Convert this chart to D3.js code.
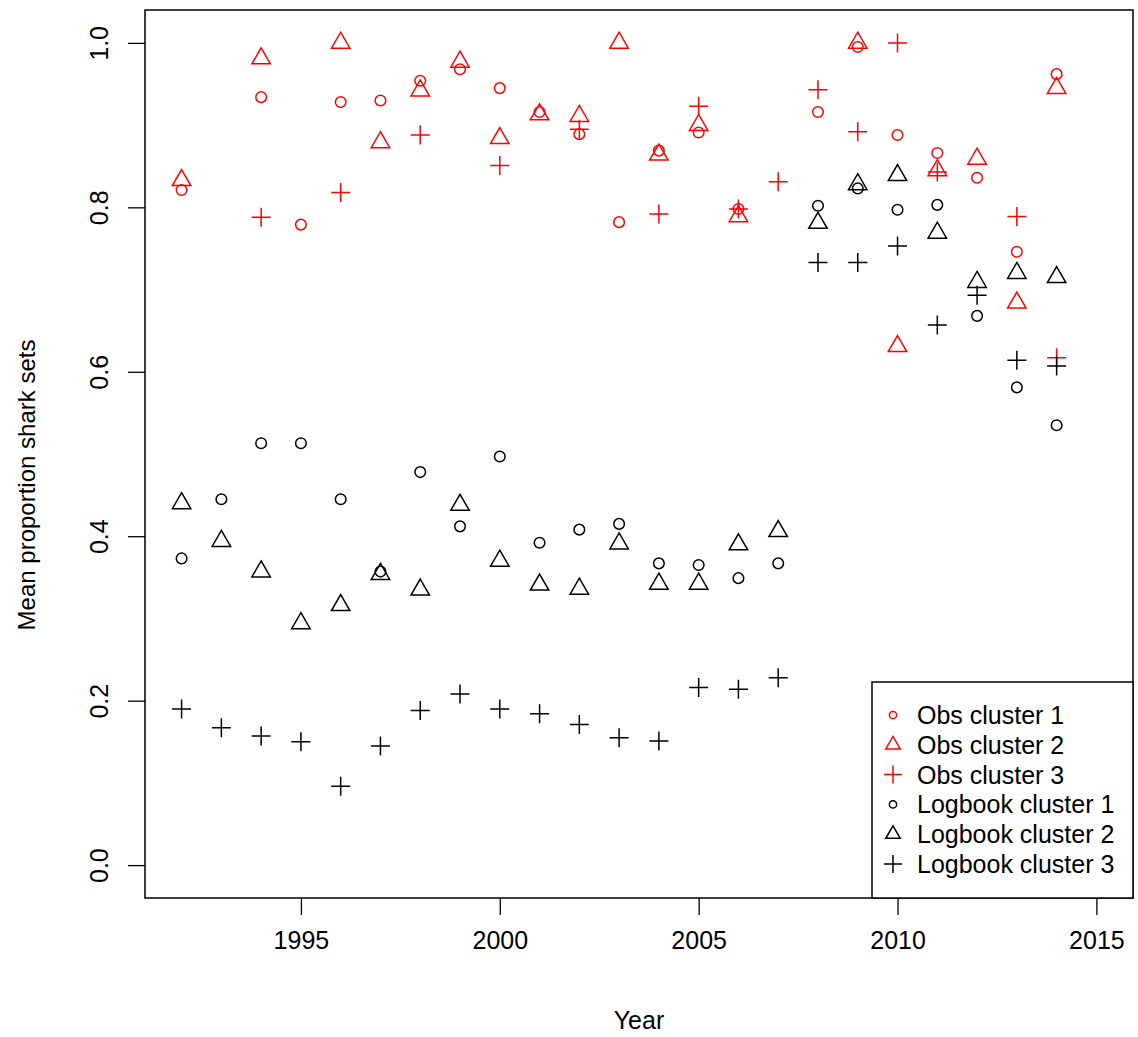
<!DOCTYPE html>
<html>
<head>
<meta charset="utf-8">
<script src="https://cdn.jsdelivr.net/npm/d3@7"></script>
<style>
  html, body { margin: 0; padding: 0; background: #ffffff; }
  svg { display: block; font-family: "Liberation Sans", Arial, sans-serif; }
</style>
</head>
<body>
<svg id="chart" width="1138" height="1037"></svg>
<script>
// ---- data ----
const years = [1992,1993,1994,1995,1996,1997,1998,1999,2000,2001,2002,2003,2004,2005,2006,2007,2008,2009,2010,2011,2012,2013,2014];

// null = no point drawn that year
const obsCluster1 = [0.821,null,0.934,0.779,0.928,0.930,0.954,0.968,0.945,0.916,0.889,0.782,0.869,0.891,0.798,null,0.916,0.995,0.888,0.866,0.836,0.746,0.962];
const obsCluster2 = [0.833,null,0.981,null,1.000,0.879,0.942,0.977,0.884,0.913,0.911,1.000,0.864,0.900,0.789,null,null,1.000,0.631,0.845,0.859,0.684,0.945];
const obsCluster3 = [null,null,0.788,null,0.818,null,0.888,null,0.851,null,0.895,null,0.792,0.923,0.798,0.831,0.943,0.892,1.000,0.843,null,0.789,0.617];
const logCluster1 = [0.373,0.445,0.513,0.513,0.445,0.357,0.478,0.412,0.497,0.392,0.408,0.415,0.367,0.365,0.349,0.367,0.802,0.823,0.797,0.803,0.668,0.581,0.535];
const logCluster2 = [0.440,0.394,0.357,0.294,0.316,0.354,0.335,0.438,0.370,0.341,0.336,0.391,0.342,0.342,0.390,0.406,0.781,0.828,0.839,0.769,0.709,0.720,0.715];
const logCluster3 = [0.190,0.167,0.157,0.150,0.096,0.145,0.188,0.208,0.190,0.184,0.171,0.155,0.151,0.216,0.214,0.228,0.733,0.733,0.753,0.657,0.693,0.614,0.607];

const seriesNames = ["Obs cluster 1","Obs cluster 2","Obs cluster 3","Logbook cluster 1","Logbook cluster 2","Logbook cluster 3"];
const seriesValues = [obsCluster1, obsCluster2, obsCluster3, logCluster1, logCluster2, logCluster3];
const seriesShapes = ["circle","triangle","plus","circle","triangle","plus"];
const seriesColors = ["#ff0000","#ff0000","#ff0000","#000000","#000000","#000000"];

const xTicks = [1995, 2000, 2005, 2010, 2015];
const yTicks = [0.0, 0.2, 0.4, 0.6, 0.8, 1.0];

const xLabel = "Year";
const yLabel = "Mean proportion shark sets";

// ---- layout ----
const svg = d3.select("#chart");
const box = { left: 145, top: 10, right: 1133, bottom: 898 };

const x = d3.scaleLinear().domain([1991.08, 2015.92]).range([box.left, box.right]);
const y = d3.scaleLinear().domain([-0.04, 1.04]).range([box.bottom, box.top]);

// symbol path generators
function symPath(shape, big) {
  if (shape === "circle") {
    const r = big ? 5.3 : 3.6;
    return `M${r},0A${r},${r} 0 1,1 ${-r},0A${r},${r} 0 1,1 ${r},0Z`;
  }
  if (shape === "triangle") {
    const h = big ? 16 : 12.5;      // total height; centroid at origin
    const a = h / 3;
    const hw = a * Math.sqrt(3);
    return `M0,${-2*a}L${hw},${a}L${-hw},${a}Z`;
  }
  const p = big ? 9.5 : 9;
  return `M${-p},0H${p}M0,${-p}V${p}`;
}

// ---- points ----
const gPts = svg.append("g");
seriesValues.forEach((vals, si) => {
  const pts = years.map((yr, i) => ({ yr, v: vals[i] })).filter(d => d.v !== null);
  gPts.selectAll(null)
    .data(pts)
    .enter()
    .append("path")
    .attr("transform", d => `translate(${x(d.yr)},${y(d.v)})`)
    .attr("d", symPath(seriesShapes[si], true))
    .attr("fill", "none")
    .attr("stroke", seriesColors[si])
    .attr("stroke-width", 1.5);
});

// ---- axes ----
const xAxis = svg.append("g")
  .attr("transform", `translate(0,${box.bottom})`)
  .call(d3.axisBottom(x).tickValues(xTicks).tickSize(17).tickFormat(d3.format("d")));
xAxis.select(".domain").remove();
xAxis.selectAll(".tick line").attr("stroke", "#000").attr("stroke-width", 1.3);
xAxis.selectAll(".tick text")
  .attr("y", 0).attr("dy", 0)
  .attr("transform", "translate(0,51)")
  .attr("font-size", 25)
  .attr("font-family", "Liberation Sans, Arial, sans-serif")
  .attr("fill", "#000");

const yAxis = svg.append("g")
  .attr("transform", `translate(${box.left},0)`)
  .call(d3.axisLeft(y).tickValues(yTicks).tickSize(17).tickFormat(d3.format(".1f")));
yAxis.select(".domain").remove();
yAxis.selectAll(".tick line").attr("stroke", "#000").attr("stroke-width", 1.3);
yAxis.selectAll(".tick text")
  .attr("x", 0).attr("dy", 0)
  .attr("text-anchor", "middle")
  .attr("transform", "translate(-37,0) rotate(-90)")
  .attr("font-size", 25)
  .attr("font-family", "Liberation Sans, Arial, sans-serif")
  .attr("fill", "#000");

// plot box
svg.append("rect")
  .attr("x", box.left).attr("y", box.top)
  .attr("width", box.right - box.left).attr("height", box.bottom - box.top)
  .attr("fill", "none").attr("stroke", "#000").attr("stroke-width", 1.5);

// axis titles
svg.append("text")
  .attr("x", (box.left + box.right) / 2).attr("y", 1029)
  .attr("text-anchor", "middle").attr("font-size", 25).attr("fill", "#000")
  .text(xLabel);

svg.append("text")
  .attr("transform", `translate(35,${(box.top + box.bottom) / 2 + 31}) rotate(-90)`)
  .attr("text-anchor", "middle").attr("font-size", 24).attr("fill", "#000")
  .text(yLabel);

// ---- legend ----
const leg = { left: 872, top: 682, right: 1133, bottom: 898 };
svg.append("rect")
  .attr("x", leg.left).attr("y", leg.top)
  .attr("width", leg.right - leg.left).attr("height", leg.bottom - leg.top)
  .attr("fill", "#fff").attr("stroke", "#000").attr("stroke-width", 1.5);

const legRow = d3.scaleLinear().domain([0, 5]).range([715, 864]);
const legItems = svg.append("g").selectAll("g")
  .data(seriesNames)
  .enter().append("g")
  .attr("transform", (d, i) => `translate(0,${legRow(i)})`);
legItems.append("path")
  .attr("transform", "translate(893,0)")
  .attr("d", (d, i) => symPath(seriesShapes[i], false))
  .attr("fill", "none")
  .attr("stroke", (d, i) => seriesColors[i])
  .attr("stroke-width", 1.5);
legItems.append("text")
  .attr("x", 917).attr("y", 9)
  .attr("font-size", 25).attr("fill", "#000")
  .text(d => d);
</script>
</body>
</html>
